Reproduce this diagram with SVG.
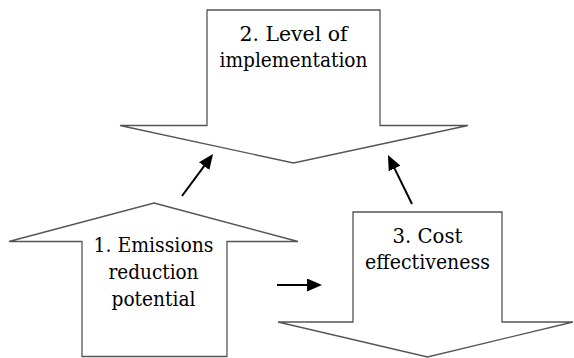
<svg xmlns="http://www.w3.org/2000/svg" width="574" height="358" viewBox="0 0 574 358">
  <style>
    .shape { fill: #fff; stroke: #555; stroke-width: 1.3; stroke-linejoin: miter; }
    .label { font-family: 'DejaVu Serif', serif; font-size: 20px; fill: #000; text-anchor: middle; }
    .link { stroke: #000; stroke-width: 2; fill: none; marker-end: url(#head); }
  </style>
  <defs>
    <marker id="head" markerUnits="userSpaceOnUse" markerWidth="16" markerHeight="13" refX="4" refY="6.5" orient="auto">
      <path d="M0,0 L15,6.5 L0,13 z" fill="#000"/>
    </marker>
  </defs>
  <rect width="574" height="358" fill="#fff"/>

  <!-- 2. Level of implementation: downward block arrow -->
  <g id="node-implementation">
    <polygon class="shape" points="207,10 380,10 380,125.5 468,125.5 293.5,163 120,125.5 207,125.5"/>
    <text class="label" x="293.5" y="41" textLength="108" lengthAdjust="spacingAndGlyphs">2. Level of</text>
    <text class="label" x="293.5" y="67" textLength="148" lengthAdjust="spacingAndGlyphs">implementation</text>
  </g>

  <!-- 1. Emissions reduction potential: upward block arrow -->
  <g id="node-emissions">
    <polygon class="shape" points="154,203 298,241.5 227,241.5 227,356.5 82,356.5 82,241.5 9,241.5"/>
    <text class="label" x="153.5" y="252" textLength="120" lengthAdjust="spacingAndGlyphs">1. Emissions</text>
    <text class="label" x="153.5" y="279" textLength="90" lengthAdjust="spacingAndGlyphs">reduction</text>
    <text class="label" x="153.5" y="306" textLength="84" lengthAdjust="spacingAndGlyphs">potential</text>
  </g>

  <!-- 3. Cost effectiveness: downward block arrow -->
  <g id="node-cost">
    <polygon class="shape" points="353,212 502,212 502,322 573,322 427.5,357 278,322 353,322"/>
    <text class="label" x="427.5" y="243" textLength="70" lengthAdjust="spacingAndGlyphs">3. Cost</text>
    <text class="label" x="427.5" y="269" textLength="125" lengthAdjust="spacingAndGlyphs">effectiveness</text>
  </g>

  <!-- connectors -->
  <g id="connectors">
    <line class="link" x1="182" y1="196" x2="206.5" y2="162.9"/>
    <line class="link" x1="412" y1="204" x2="392.8" y2="164.9"/>
    <line class="link" x1="277" y1="285" x2="311" y2="285"/>
  </g>
</svg>
